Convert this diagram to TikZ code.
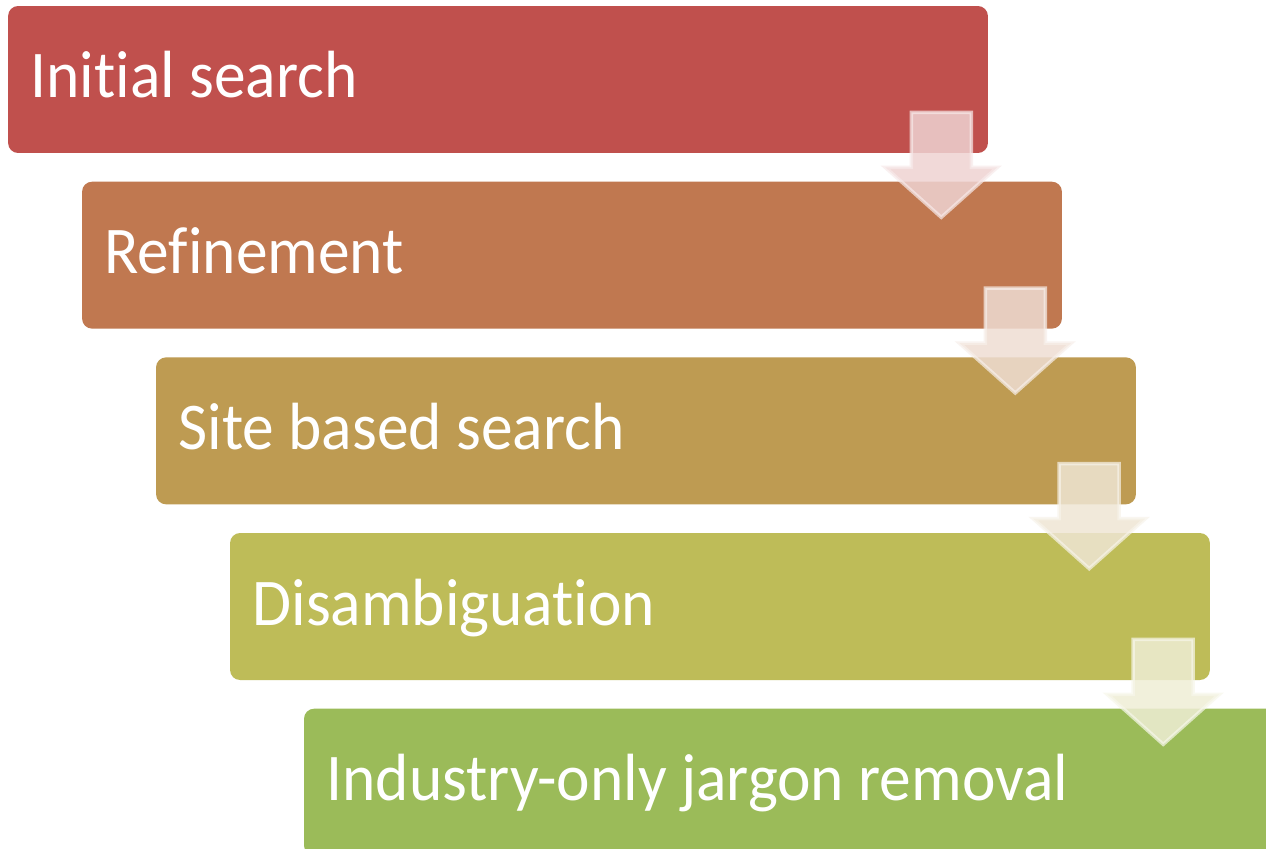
\documentclass[tikz,border=0pt]{standalone}
\usepackage{fontspec}
\setmainfont{Carlito}[Ligatures=NoCommon, FakeStretch=0.95]
\usetikzlibrary{positioning,calc}
\definecolor{stepA}{HTML}{C0504D}
\definecolor{stepB}{HTML}{C07850}
\definecolor{stepC}{HTML}{BE9B52}
\definecolor{stepD}{HTML}{BEBC58}
\definecolor{stepE}{HTML}{9BBB59}
\tikzset{
  stage/.style={rectangle, rounded corners=0.2cm, minimum height=2.94cm,
    text width=18.7cm, inner xsep=0.45cm, align=flush left, text=white,
    text height=0.74cm, text depth=0cm, font=\fontsize{38}{44}\selectfont},
  flow/.style={fill=#1!25, fill opacity=0.85, draw=#1!12, draw opacity=0.7,
    line width=0.07cm, line join=miter}
}

\begin{document}
\begin{tikzpicture}[x=0.02cm, y=-0.02cm]
   \clip (0,0) rectangle (1266,848);
   \fill[white] (0,0) rectangle (1266,848);

   \node[stage, fill=stepA] (s1) at (498,79.5) {Initial search};
   \node[stage, fill=stepB, below=0.56cm of s1, xshift=1.48cm] (s2) {Refinement};
   \node[stage, fill=stepC, below=0.56cm of s2, xshift=1.48cm] (s3) {Site based search};
   \node[stage, fill=stepD, below=0.56cm of s3, xshift=1.48cm] (s4) {Disambiguation};
   \node[stage, fill=stepE, below=0.56cm of s4, xshift=1.48cm] (s5) {Industry-only jargon removal};

   \foreach \a/\c in {s1/stepA,s2/stepB,s3/stepC,s4/stepD}{
      \draw[flow=\c] ($(\a.south east)+(-77,-41)$) -- ($(\a.south east)+(-17,-41)$)
         -- ($(\a.south east)+(-17,14)$) -- ($(\a.south east)+(9,14)$)
         -- ($(\a.south east)+(-47,64)$) -- ($(\a.south east)+(-103,14)$)
         -- ($(\a.south east)+(-77,14)$) -- cycle;
   }
\end{tikzpicture}
\end{document}
